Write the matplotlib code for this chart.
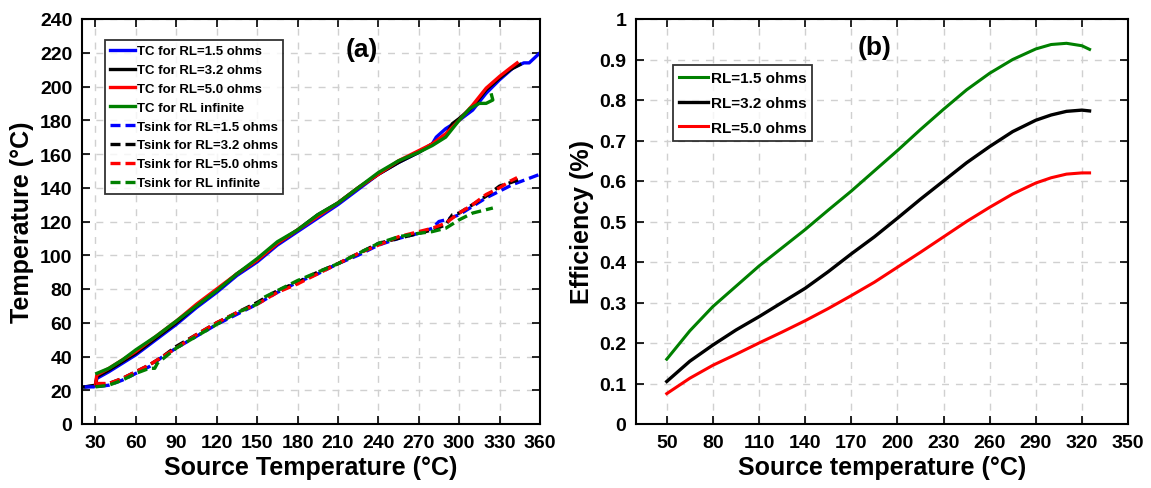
import matplotlib
matplotlib.use("Agg")
import matplotlib.pyplot as plt

plt.rcParams['font.family'] = ['Liberation Sans', 'DejaVu Sans']
plt.rcParams['font.weight'] = 'bold'

# ---- panel (a): temperatures vs source temperature ----
tc_15_x = [22, 30, 31, 40, 50, 60, 75, 90, 105, 120, 135, 150, 165, 180, 195, 210, 225, 240, 255, 270, 280, 283, 290, 300, 310, 320, 330, 340, 348, 352, 360]
tc_15_y = [22, 22.5, 27, 31, 36, 41, 50, 59, 69, 78, 88, 96, 106, 114, 122, 130, 139, 148, 155, 161, 166, 170, 175, 180, 186, 196, 204, 211, 214, 214, 220]
tc_32_x = [22, 30, 31, 40, 50, 60, 75, 90, 105, 120, 135, 150, 165, 180, 195, 210, 225, 240, 255, 270, 280, 290, 295, 300, 310, 320, 330, 338, 345]
tc_32_y = [22, 23, 28, 32, 37, 42, 51, 60, 70, 79, 89, 97, 107, 115, 124, 131, 140, 148, 155, 161, 166, 171, 178, 181, 188, 198, 205, 210, 213]
tc_50_x = [30, 31, 40, 50, 60, 75, 90, 105, 120, 135, 150, 165, 180, 195, 210, 225, 240, 255, 270, 280, 290, 300, 310, 320, 330, 338, 343]
tc_50_y = [23, 29, 33, 38, 43, 52, 61, 71, 80, 89, 97, 107, 115, 123, 131, 140, 148, 156, 162, 166, 172, 180, 189, 199, 206, 211, 214]
tc_inf_x = [31, 40, 50, 60, 75, 90, 105, 120, 135, 150, 165, 180, 195, 210, 225, 240, 255, 270, 280, 290, 300, 308, 315, 320, 325, 324]
tc_inf_y = [30, 33, 38, 44, 52, 61, 70, 79, 89, 98, 108, 115, 124, 131, 140, 149, 156, 161, 165, 170, 180, 187, 190, 190, 192, 195]

ts_15_x = [22, 30, 40, 50, 60, 70, 80, 90, 105, 120, 135, 150, 165, 180, 195, 210, 225, 240, 255, 270, 280, 285, 290, 300, 310, 320, 330, 340, 350, 360]
ts_15_y = [22, 22, 23, 26, 30, 34, 40, 45, 52, 59, 65, 71, 78, 84, 89, 95, 100, 106, 110, 113, 116, 120, 121, 124, 129, 134, 138, 142, 145, 148]
ts_32_x = [30, 40, 50, 60, 70, 80, 90, 105, 120, 135, 150, 165, 180, 195, 210, 225, 240, 255, 270, 280, 290, 295, 300, 310, 320, 330, 338, 345]
ts_32_y = [23, 24, 27, 31, 35, 40, 46, 53, 60, 66, 72, 79, 84, 90, 95, 101, 107, 110, 113, 115, 118, 124, 125, 130, 135, 141, 143, 145]
ts_50_x = [30, 40, 50, 60, 70, 80, 90, 105, 120, 135, 150, 165, 180, 195, 210, 225, 240, 255, 270, 280, 290, 300, 310, 320, 330, 338, 343]
ts_50_y = [24, 24, 27, 31, 35, 40, 45, 53, 60, 66, 71, 78, 83, 89, 95, 101, 106, 111, 114, 116, 119, 125, 130, 136, 140, 144, 146]
ts_inf_x = [30, 40, 50, 60, 70, 74, 76, 90, 105, 120, 135, 150, 155, 165, 180, 195, 210, 225, 240, 255, 270, 280, 290, 300, 310, 320, 325]
ts_inf_y = [22, 23, 26, 30, 33, 33, 36, 45, 52, 59, 66, 71, 75, 79, 85, 90, 95, 101, 107, 111, 113, 114, 116, 121, 125, 127, 128]

# ---- panel (b): efficiency vs source temperature ----
eff_x = [50, 65, 80, 95, 110, 125, 140, 155, 170, 185, 200, 215, 230, 245, 260, 275, 290, 300, 310, 320, 325]
eff_15 = [0.16, 0.23, 0.29, 0.34, 0.39, 0.435, 0.48, 0.528, 0.575, 0.625, 0.675, 0.727, 0.777, 0.825, 0.866, 0.9, 0.926, 0.937, 0.94, 0.934, 0.925]
eff_32 = [0.105, 0.155, 0.195, 0.232, 0.265, 0.3, 0.335, 0.376, 0.42, 0.462, 0.508, 0.555, 0.6, 0.645, 0.685, 0.722, 0.75, 0.763, 0.772, 0.775, 0.773]
eff_50 = [0.075, 0.113, 0.145, 0.172, 0.2, 0.227, 0.255, 0.285, 0.317, 0.35, 0.387, 0.424, 0.462, 0.5, 0.535, 0.568, 0.595, 0.608, 0.617, 0.62, 0.62]

blue = '#0000ff'
black = '#000000'
red = '#ff0000'
green = '#008000'


def style_axes(ax):
    ax.grid(True, linestyle=(0, (5, 5)), color='#d0d0d0', linewidth=1.0)
    ax.set_axisbelow(True)
    ax.tick_params(direction='in', top=True, right=True, length=6, width=1.2,
                   labelsize=14, pad=7)
    for lab in ax.get_xticklabels() + ax.get_yticklabels():
        lab.set_fontweight('bold')
    for sp in ax.spines.values():
        sp.set_linewidth(1.5)


W, H = 1151, 489
fig = plt.figure(figsize=(W / 100, H / 100), dpi=100)
ax1 = fig.add_axes([82 / W, (H - 425) / H, (540 - 82) / W, 405 / H])
ax2 = fig.add_axes([636 / W, (H - 425) / H, (1128 - 636) / W, 405 / H])

lw = 2.4
ax1.plot(tc_15_x, tc_15_y, color=blue, lw=lw, label='TC for RL=1.5 ohms')
ax1.plot(tc_32_x, tc_32_y, color=black, lw=lw, label='TC for RL=3.2 ohms')
ax1.plot(tc_50_x, tc_50_y, color=red, lw=lw, label='TC for RL=5.0 ohms')
ax1.plot(tc_inf_x, tc_inf_y, color=green, lw=lw, label='TC for RL infinite')
dash = (0, (3, 1.5))
ax1.plot(ts_15_x, ts_15_y, color=blue, lw=lw, ls=dash, label='Tsink for RL=1.5 ohms')
ax1.plot(ts_32_x, ts_32_y, color=black, lw=lw, ls=dash, label='Tsink for RL=3.2 ohms')
ax1.plot(ts_50_x, ts_50_y, color=red, lw=lw, ls=dash, label='Tsink for RL=5.0 ohms')
ax1.plot(ts_inf_x, ts_inf_y, color=green, lw=lw, ls=dash, label='Tsink for RL infinite')

ax1.set_xlim(20, 360)
ax1.set_ylim(0, 240)
ax1.set_xticks(range(30, 361, 30))
ax1.set_yticks(range(0, 241, 20))
style_axes(ax1)
ax1.set_xlabel('Source Temperature (°C)', fontsize=18, fontweight='bold', labelpad=3)
ax1.set_ylabel('Temperature (°C)', fontsize=18, fontweight='bold', labelpad=4)
ax1.text(228, 222, '(a)', fontsize=19, fontweight='bold', ha='center', va='center')
leg1 = ax1.legend(loc='upper left', bbox_to_anchor=(0.035, 0.965),
                  prop={'weight': 'bold', 'size': 9.5}, frameon=True, fancybox=False,
                  edgecolor='black', handlelength=1.9, handletextpad=0.15,
                  labelspacing=0.5, borderpad=0.4)
leg1.get_frame().set_linewidth(1.3)

ax2.plot(eff_x, eff_15, color=green, lw=2.2, label='RL=1.5 ohms')
ax2.plot(eff_x, eff_32, color=black, lw=2.4, label='RL=3.2 ohms')
ax2.plot(eff_x, eff_50, color=red, lw=2.2, label='RL=5.0 ohms')
ax2.set_xlim(30, 350)
ax2.set_ylim(0, 1)
ax2.set_xticks(range(50, 351, 30))
ax2.set_yticks([i / 10 for i in range(11)])
ax2.set_yticklabels(['0', '0.1', '0.2', '0.3', '0.4', '0.5', '0.6', '0.7', '0.8', '0.9', '1'])
style_axes(ax2)
ax2.set_xlabel('Source temperature (°C)', fontsize=18, fontweight='bold', labelpad=3)
ax2.set_ylabel('Efficiency (%)', fontsize=18, fontweight='bold', labelpad=4)
ax2.text(185, 0.93, '(b)', fontsize=19, fontweight='bold', ha='center', va='center')
leg2 = ax2.legend(loc='upper left', bbox_to_anchor=(0.06, 0.905),
                  prop={'weight': 'bold', 'size': 11}, frameon=True, fancybox=False,
                  edgecolor='black', handlelength=1.9, handletextpad=0.15,
                  labelspacing=0.7, borderpad=0.4)
leg2.get_frame().set_linewidth(1.3)

fig.savefig('out.png', dpi=100)
